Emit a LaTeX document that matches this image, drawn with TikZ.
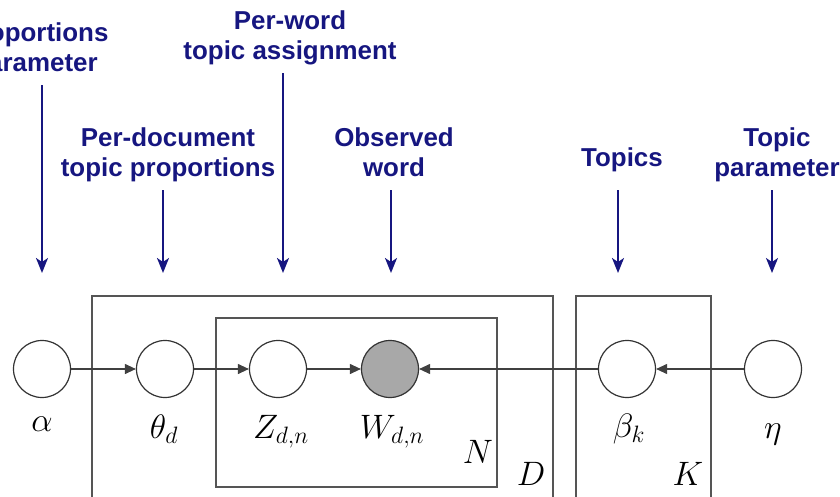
\documentclass[tikz,border=0pt]{standalone}
\usepackage{fix-cm}
\usepackage{fontspec}
\usetikzlibrary{arrows.meta}
\newfontfamily\annfont{Liberation Sans}

\definecolor{annblue}{RGB}{22,22,128}
\definecolor{plategray}{RGB}{85,85,85}
\definecolor{obsgray}{RGB}{168,168,168}

\tikzset{
  var/.style={circle, draw=black!80, line width=1.2bp, minimum size=57bp, inner sep=0pt},
  obsvar/.style={var, fill=obsgray},
  mlabel/.style={anchor=base, inner sep=0pt, font=\fontsize{34}{40}\selectfont},
  plate/.style={draw=plategray, line width=1.3bp},
  edge/.style={-{Triangle[length=11bp,width=10bp]}, line width=1.1bp, draw=black!75},
  ann/.style={-{Stealth[length=15bp,width=12bp,inset=4bp]}, line width=2bp, draw=annblue},
  annlabel/.style={anchor=base, align=center, text=annblue, inner sep=3.7bp,
    font=\annfont\bfseries\fontsize{26}{31}\selectfont},
}

\begin{document}
\begin{tikzpicture}[x=1bp, y=-1bp]

\useasboundingbox (0,0) rectangle (840,497);
\clip (0,0) rectangle (840,497);

% ---------- plates ----------
\draw[plate] (92,296) rectangle (553,520);
\draw[plate] (216,318) rectangle (497,487);
\draw[plate] (576,296) rectangle (711,520);
\node[mlabel] (nlab) at (478,463) {$N$};
\node[mlabel] (dlab) at (531,485) {$D$};
\node[mlabel] (klab) at (688,485) {$K$};

% ---------- variables ----------
\node[var]    (alpha) at (42,369)  {};
\node[var]    (theta) at (165,369) {};
\node[var]    (z)     at (278,369) {};
\node[obsvar] (w)     at (390,369) {};
\node[var]    (beta)  at (627,369) {};
\node[var]    (eta)   at (773,369) {};

\node[mlabel] (alphalab) at (42,431)  {$\alpha$};
\node[mlabel] (thetalab) at (164,438) {$\theta_d$};
\node[mlabel] (zlab)     at (281,438) {$Z_{d,n}$};
\node[mlabel] (wlab)     at (392,438) {$W_{d,n}$};
\node[mlabel] (betalab)  at (629,437) {$\beta_k$};
\node[mlabel] (etalab)   at (773,438) {$\eta$};

\draw[edge] (alpha) -- (theta);
\draw[edge] (theta) -- (z);
\draw[edge] (z) -- (w);
\draw[edge] (beta) -- (w);
\draw[edge] (eta) -- (beta);

% ---------- annotations (base = last line) ----------
\node[annlabel] (prop)     at (35,72)   {Proportions\\parameter\strut};
\node[annlabel] (perword)  at (290,60)  {Per-word\\topic assignment\strut};
\node[annlabel] (perdoc)   at (168,177) {Per-document\\topic proportions\strut};
\node[annlabel] (obs)      at (394,177) {Observed\\word\strut};
\node[annlabel, text depth=19.3bp] (topics) at (622,167) {Topics};
\node[annlabel] (topicpar) at (777,177) {Topic\\parameter\strut};

\coordinate (alphatip) at (42,273);
\coordinate (thetatip) at (163,273);
\coordinate (ztip)     at (283,273);
\coordinate (wtip)     at (391,273);
\coordinate (betatip)  at (618,273);
\coordinate (etatip)   at (772,273);

\draw[ann] (alphatip |- prop.south)     -- (alphatip);
\draw[ann] (thetatip |- perdoc.south)   -- (thetatip);
\draw[ann] (ztip |- perword.south)      -- (ztip);
\draw[ann] (wtip |- obs.south)          -- (wtip);
\draw[ann] (betatip |- topics.south)    -- (betatip);
\draw[ann] (etatip |- topicpar.south)   -- (etatip);

\end{tikzpicture}
\end{document}
